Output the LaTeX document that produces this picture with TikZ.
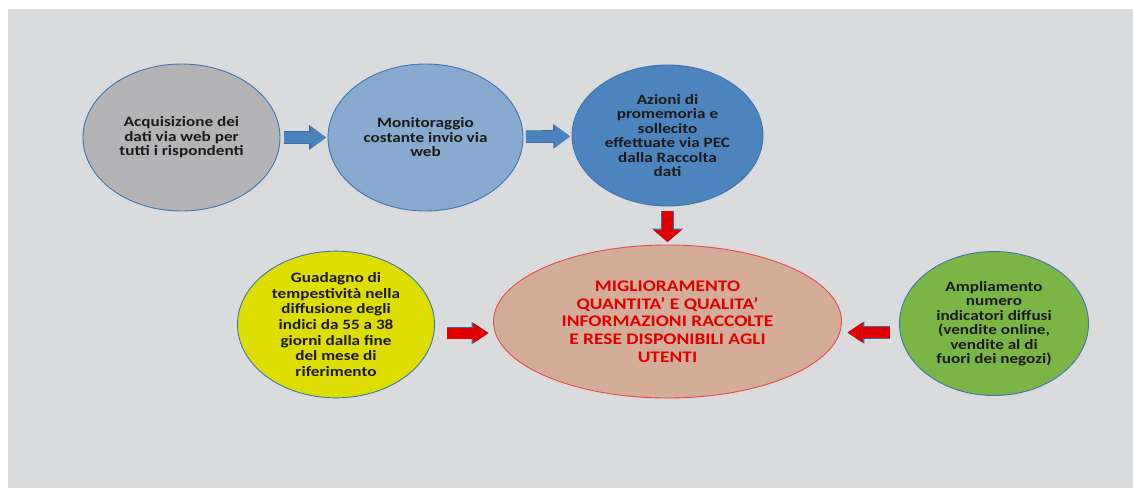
\documentclass[tikz,border=0pt]{standalone}
\usepackage{fontspec}
\setmainfont{Carlito}[FakeStretch=1.2]
\usepackage{tikz}
\usetikzlibrary{arrows.meta,positioning,shapes.geometric}
\definecolor{istBack}{HTML}{DADBDD}
\definecolor{istEdge}{HTML}{3F74AE}
\definecolor{istInk}{HTML}{1A1A1A}
\definecolor{istGrey}{HTML}{B4B4B7}
\definecolor{istSky}{HTML}{87AACE}
\definecolor{istBlue}{HTML}{4D84BE}
\definecolor{istArrow}{HTML}{4A82BD}
\definecolor{istArrowEdge}{HTML}{41699A}
\definecolor{istTan}{HTML}{D4AD98}
\definecolor{istRed}{HTML}{E00000}
\definecolor{istRim}{HTML}{E8474C}
\definecolor{istYellow}{HTML}{DDDD00}
\definecolor{istGreen}{HTML}{7AB546}

\begin{document}
\begin{tikzpicture}[x=1pt,y=-1pt,
  blob/.style={ellipse,draw=istEdge,line width=0.9pt,fill=#1,inner sep=0pt,outer sep=0pt,
    align=center,text=istInk,font=\bfseries\fontsize{14.3}{14.5}\selectfont},
  fat/.style 2 args={draw=#1,line width=11pt,-{Triangle[#2,line width=0pt]},
    preaction={draw=istArrowEdge,line width=12.6pt,-{Triangle[#2,line width=0pt,scale=1.12]}}}]
\useasboundingbox (0,0) rectangle (1133,488);
\fill[istBack] (8,9) rectangle (1133,488);
\node[blob=istGrey,minimum width=197pt,minimum height=147pt] (acq) at (181.5,137.5) {Acquisizione dei\\dati via web per\\tutti i rispondenti};
\node[blob=istSky,minimum width=195pt,minimum height=147pt,right=48pt of acq] (mon) {Monitoraggio\\costante invio via\\web};
\node[blob=istBlue,minimum width=191pt,minimum height=141pt,right=49pt of mon,yshift=2pt] (azi) {Azioni di\\promemoria e\\sollecito\\effettuate via PEC\\dalla Raccolta\\dati};
\node[blob=istTan,draw=istRim,minimum width=348pt,minimum height=153pt,below=39pt of azi,
  text=istRed,font=\bfseries\fontsize{16.2}{17.7}\selectfont] (main) {MIGLIORAMENTO\\QUANTITA’ E QUALITA’\\INFORMAZIONI RACCOLTE\\E RESE DISPONIBILI AGLI\\UTENTI};
\node[blob=istYellow,minimum width=197pt,minimum height=145pt,left=59pt of main,yshift=-3pt,
  font=\bfseries\fontsize{14.3}{15.6}\selectfont] (yel) {Guadagno di\\tempestività nella\\diffusione degli\\indici da 55 a 38\\giorni dalla fine\\del mese di\\riferimento};
\node[blob=istGreen,minimum width=189pt,minimum height=144pt,right=58pt of main,yshift=-2pt] (grn) {Ampliamento\\numero\\indicatori diffusi\\(vendite online,\\vendite al di\\fuori dei negozi)};
\coordinate (lev) at ([yshift=-8.5pt]yel.east);
\coordinate (rlev) at ([yshift=-9pt]grn.west);
\draw[fat={istArrow}{length=15pt,width=22pt},shorten <=4pt,shorten >=2pt] (acq) -- (mon);
\draw[fat={istArrow}{length=15pt,width=22pt},shorten <=3pt,shorten >=2pt] (mon) -- (azi);
\draw[fat={istRed}{length=12pt,width=28pt},shorten <=5pt,shorten >=3pt] (azi) -- (main);
\draw[fat={istRed}{length=15pt,width=20pt},shorten <=12pt,shorten >=5pt] (lev) -- (lev -| main.west);
\draw[fat={istRed}{length=15pt,width=20pt},shorten <=10pt,shorten >=6pt] (rlev) -- (rlev -| main.east);
\end{tikzpicture}
\end{document}
